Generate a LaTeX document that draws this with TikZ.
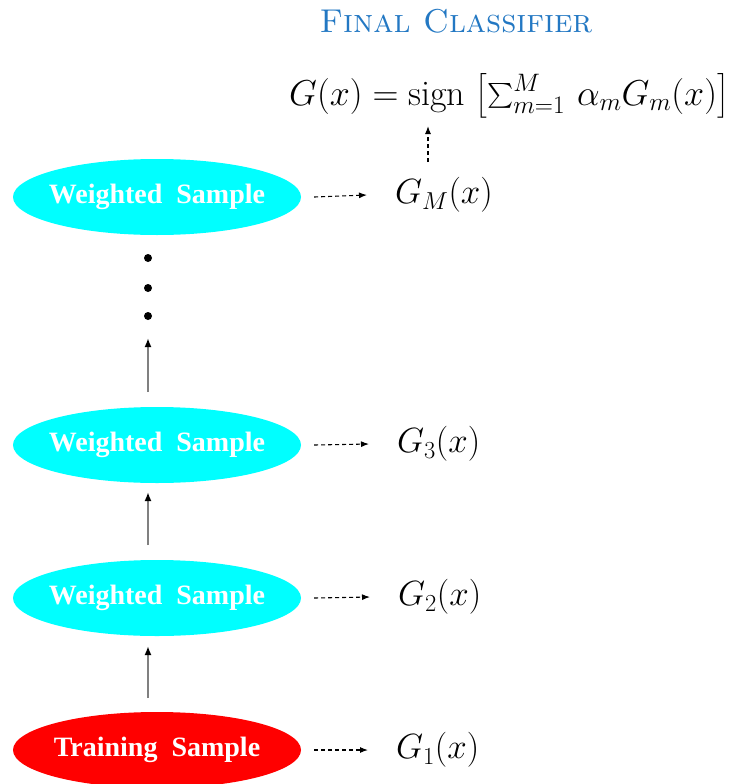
\RequirePackage{fix-cm}
\documentclass[tikz,border=0pt]{standalone}
\usepackage{fontspec}
\usepackage{amsmath}
\usetikzlibrary{shapes.geometric,arrows.meta}
\newfontfamily\tnr{Liberation Serif}
\definecolor{titleblue}{RGB}{35,120,195}
\definecolor{aqua}{RGB}{0,255,255}
\definecolor{pure red}{RGB}{255,0,0}
\begin{document}
\begin{tikzpicture}[x=1pt,y=-1pt,
  sample/.style={ellipse, minimum width=288pt, minimum height=76pt, inner sep=0pt,
    text=white, font=\tnr\bfseries\fontsize{28}{32}\selectfont},
  glabel/.style={anchor=west, inner sep=0pt, font=\fontsize{35}{42}\selectfont},
  dasharrow/.style={dash pattern=on 4pt off 3pt, line width=1.1pt, -{Latex[length=8pt,width=6pt]}},
  uparrow/.style={draw=gray, line width=1.8pt, -{Latex[black,length=9pt,width=7pt]}},
  dotnode/.style={circle, fill=black, inner sep=0pt, minimum size=8pt}]
\useasboundingbox (0,0) rectangle (732,784);
\node[text=titleblue, font=\fontsize{33}{40}\selectfont] (title) at (456,21) {\textsc{Final Classifier}};
\node[anchor=west, inner sep=0pt, font=\fontsize{36}{43}\selectfont] (final) at (289,96)
  {$G(x)=\operatorname{sign}\;\bigl[\sum_{m=1}^M \,\alpha_m G_m(x)\bigr]$};
\node[sample, fill=pure red] (s1) at (157,750) {\makebox[0pt]{Training\hspace{0.5em}Sample}};
\node[sample, fill=aqua] (s2) at (157,598) {\makebox[0pt]{Weighted\hspace{0.5em}Sample}};
\node[sample, fill=aqua] (s3) at (157,445) {\makebox[0pt]{Weighted\hspace{0.5em}Sample}};
\node[sample, fill=aqua] (s4) at (157,197) {\makebox[0pt]{Weighted\hspace{0.5em}Sample}};
\node[glabel] (g1) at (396,750) {$G_1(x)$};
\node[glabel] (g2) at (398,597) {$G_2(x)$};
\node[glabel] (g3) at (397,444) {$G_3(x)$};
\node[glabel] (g4) at (395,195) {$G_M(x)$};
\node[dotnode] (d1) at (148,258) {};
\node[dotnode] (d2) at (148,288) {};
\node[dotnode] (d3) at (148,316) {};
\foreach \s/\g in {s1/g1,s2/g2,s3/g3,s4/g4}
  \draw[dasharrow] ([xshift=13pt]\s.east) -- ([xshift=-28pt]\g.west);
\coordinate (a1s) at (148,698); \coordinate (a1e) at (148,646);
\coordinate (a2s) at (148,545); \coordinate (a2e) at (148,492);
\coordinate (a3s) at (148,392); \coordinate (a3e) at (148,338);
\coordinate (vs) at (428,162); \coordinate (ve) at (428,126);
\draw[uparrow] (a1s) -- (a1e);
\draw[uparrow] (a2s) -- (a2e);
\draw[uparrow] (a3s) -- (a3e);
\draw[dasharrow] (vs) -- (ve);
\end{tikzpicture}
\end{document}
